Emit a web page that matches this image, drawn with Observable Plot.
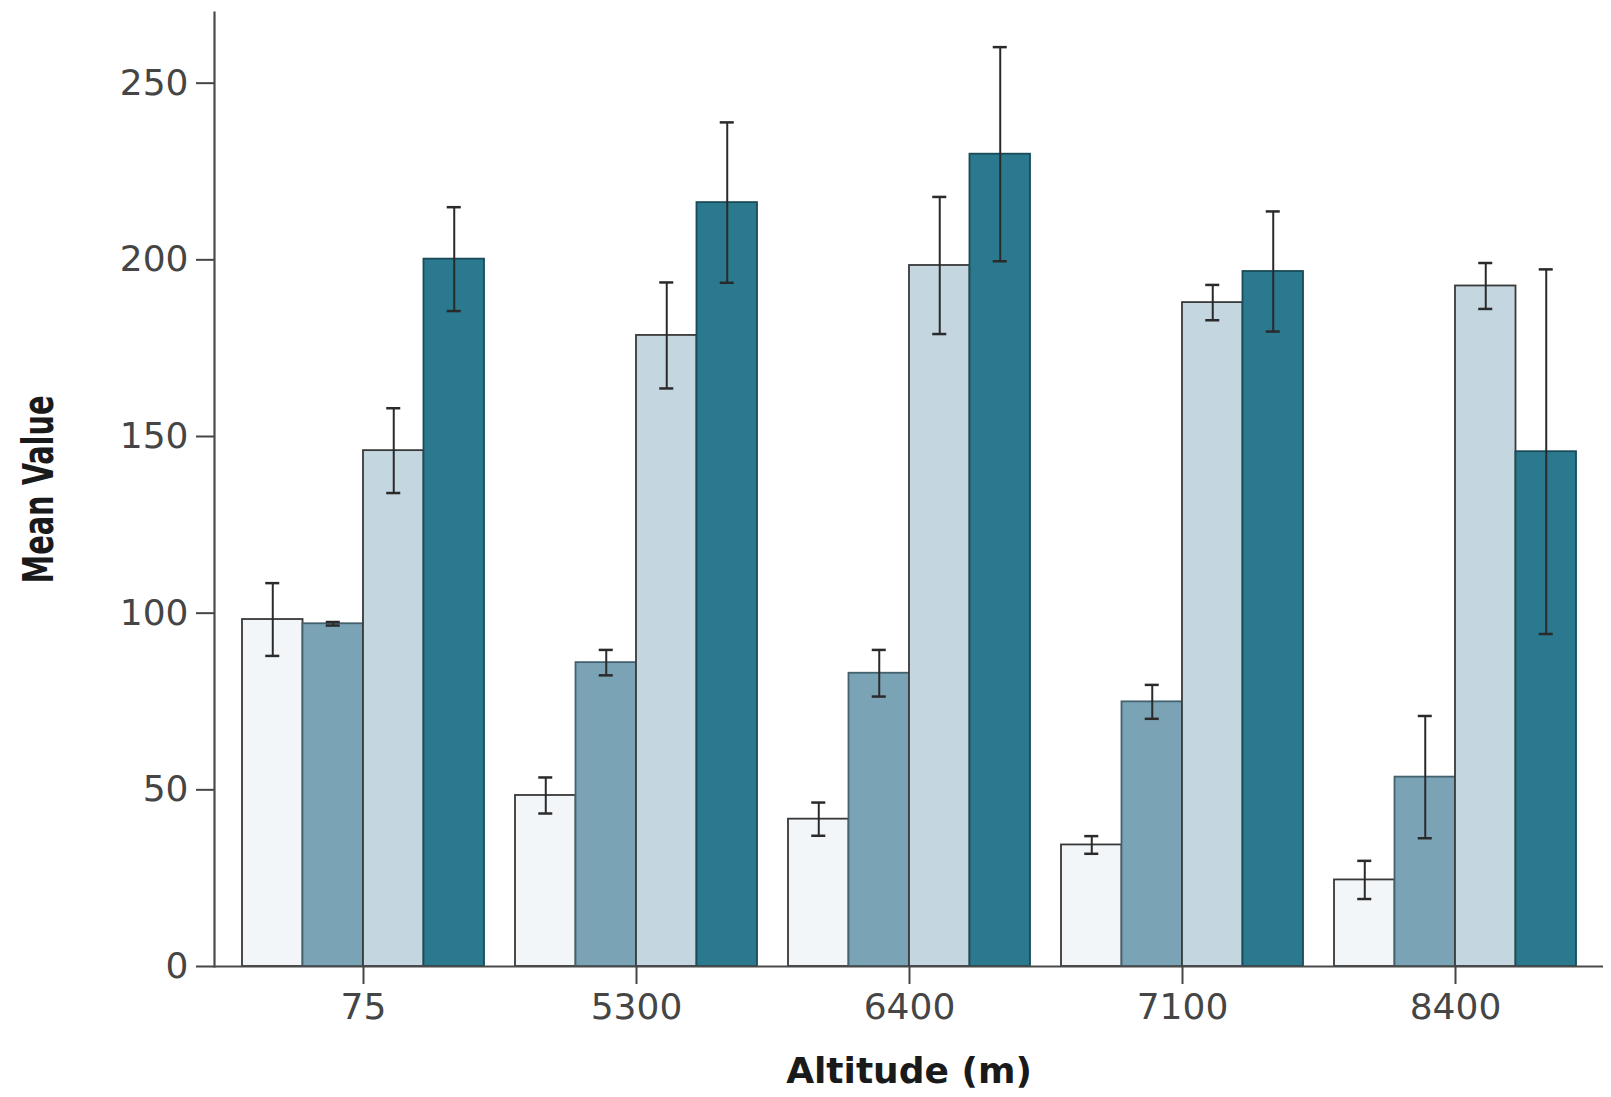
<!DOCTYPE html>
<html><head><meta charset="utf-8">
<script src="https://cdn.jsdelivr.net/npm/d3@7"></script>
<script src="https://cdn.jsdelivr.net/npm/@observablehq/plot@0.6"></script>
<style>body{margin:0;background:#fff}</style>
</head><body><div id="chart"></div>
<script>
// ---- data ----
const altitudes = ["75", "5300", "6400", "7100", "8400"];
const seriesNames = ["Series 1", "Series 2", "Series 3", "Series 4"];
const meansS1 = [98.2, 48.4, 41.7, 34.4, 24.5];
const errS1   = [10.3, 5.1, 4.7, 2.5, 5.4];
const meansS2 = [97.0, 86.0, 83.0, 74.9, 53.6];
const errS2   = [0.5, 3.6, 6.6, 4.8, 17.3];
const meansS3 = [146.0, 178.6, 198.4, 187.9, 192.6];
const errS3   = [12.0, 15.0, 19.4, 5.0, 6.5];
const meansS4 = [200.2, 216.2, 229.9, 196.7, 145.7];
const errS4   = [14.7, 22.7, 30.3, 17.0, 51.6];
const yTicks = [0, 50, 100, 150, 200, 250];

const seriesFills = ["#f3f6f9", "#7ba3b6", "#c4d6e0", "#2a798e"];
const seriesStrokes = ["#383838", "#44616e", "#3a3a3a", "#1a4b59"];

const meansAll = [meansS1, meansS2, meansS3, meansS4];
const errsAll = [errS1, errS2, errS3, errS4];

const rows = [];
seriesNames.forEach((s, i) => {
  altitudes.forEach((a, j) => {
    rows.push({altitude: a, series: s, si: i, mean: meansAll[i][j], err: errsAll[i][j]});
  });
});

// ---- layout ----
const W = 1611, H = 1097;
const mL = 214, mR = 8, mT = 12, mB = 131;
const padIn = 0.114, padOut = 0.1;
const band = d3.scaleBand().domain(altitudes).range([mL, W - mR])
  .paddingInner(padIn).paddingOuter(padOut).align(0.5);
const bw = band.bandwidth();
const sub = bw / 4;
const cap = 14;

const marks = [];
seriesNames.forEach((s, i) => {
  const data = rows.filter(d => d.si === i);
  marks.push(Plot.barY(data, {
    x: "altitude", y: "mean", fill: "series",
    stroke: seriesStrokes[i], strokeWidth: 1.8,
    insetLeft: i * sub, insetRight: (3 - i) * sub
  }));
});
seriesNames.forEach((s, i) => {
  const data = rows.filter(d => d.si === i);
  const dx = (i - 1.5) * sub;
  marks.push(Plot.ruleX(data, {
    x: "altitude", y1: d => d.mean - d.err, y2: d => d.mean + d.err,
    dx, stroke: "#2a2a2a", strokeWidth: 2
  }));
  marks.push(Plot.tickY(data, {
    x: "altitude", y: d => d.mean + d.err, dx,
    insetLeft: (bw - cap) / 2, insetRight: (bw - cap) / 2,
    stroke: "#2a2a2a", strokeWidth: 2.5
  }));
  marks.push(Plot.tickY(data, {
    x: "altitude", y: d => d.mean - d.err, dx,
    insetLeft: (bw - cap) / 2, insetRight: (bw - cap) / 2,
    stroke: "#2a2a2a", strokeWidth: 2.5
  }));
});

// axis lines
marks.push(Plot.ruleY([0], {stroke: "#4a4a4a", strokeWidth: 2.2}));
marks.push(Plot.frame({anchor: "left", stroke: "#4a4a4a", strokeWidth: 2.2}));

marks.push(Plot.axisY({
  ticks: yTicks, tickSize: 18, tickPadding: 8,
  strokeWidth: 2, fontSize: 36, label: null
}));
marks.push(Plot.axisX({
  tickSize: 18, tickPadding: 9,
  strokeWidth: 2, fontSize: 36, label: null
}));
marks.push(Plot.text(["Altitude (m)"], {
  frameAnchor: "bottom", dy: 116, text: d => d,
  fontSize: 36, fontWeight: "bold", fill: "#1a1a1a",
  fontFamily: "DejaVu Sans"
}));
marks.push(Plot.text(["Mean Value"], {
  frameAnchor: "left", dx: -175, rotate: -90, text: d => d,
  textAnchor: "middle", fontSize: 42, fontWeight: 600, fill: "#1a1a1a",
  fontFamily: "'Liberation Sans Narrow', 'DejaVu Sans Condensed', sans-serif"
}));

const chart = Plot.plot({
  width: W, height: H,
  marginLeft: mL, marginRight: mR, marginTop: mT, marginBottom: mB,
  style: {fontFamily: "DejaVu Sans", color: "#454545", background: "#fff", fontSize: "36px"},
  x: {type: "band", domain: altitudes, paddingInner: padIn, paddingOuter: padOut, label: null},
  y: {domain: [0, 270], label: null},
  color: {domain: seriesNames, range: seriesFills},
  marks
});
document.getElementById("chart").appendChild(chart);
// compress the condensed y-axis title to the reference's length
d3.select(chart).selectAll("text").filter(function () { return this.textContent === "Mean Value"; })
  .attr("textLength", 188).attr("lengthAdjust", "spacingAndGlyphs");
</script>
</body></html>
